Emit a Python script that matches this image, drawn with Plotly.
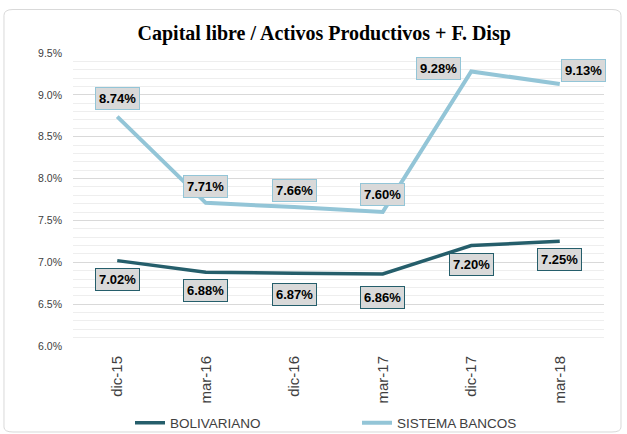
import plotly.graph_objects as go

categories = ["dic-15", "mar-16", "dic-16", "mar-17", "dic-17", "mar-18"]
bolivariano = [7.02, 6.88, 6.87, 6.86, 7.20, 7.25]
sistema = [8.74, 7.71, 7.66, 7.60, 9.28, 9.13]
y_ticks = [6.0, 6.5, 7.0, 7.5, 8.0, 8.5, 9.0, 9.5]

C_BOL = "#255E6B"
C_SIS = "#93C5D7"

# label offsets in pixels (dx, dy), screen y down
off_sis = [(0, -18), (0, -16), (0, -17), (0, -18), (-33, -3), (24, -13)]
off_bol = [(0, 19), (0, 18), (0, 21), (0, 23), (0, 19), (0, 18)]

LEG_FONT = dict(family="Liberation Sans Narrow, Liberation Sans, Arial", size=13.5, color="#404040")

fig = go.Figure()
fig.add_trace(go.Scatter(x=categories, y=bolivariano, mode="lines", name="BOLIVARIANO",
                         line=dict(color=C_BOL, width=3.5), legend="legend"))
fig.add_trace(go.Scatter(x=categories, y=sistema, mode="lines", name="SISTEMA BANCOS",
                         line=dict(color=C_SIS, width=4), legend="legend2"))

annots = []
for vals, offs, col in ((sistema, off_sis, C_SIS), (bolivariano, off_bol, C_BOL)):
    for c, v, (dx, dy) in zip(categories, vals, offs):
        annots.append(dict(x=c, y=v, xref="x", yref="y", text=f"<b>{v:.2f}%</b>",
                           showarrow=False, xshift=dx, yshift=-dy,
                           font=dict(family="Liberation Sans Narrow, Liberation Sans, Arial", size=13, color="#000000"),
                           bgcolor="#D9D9D9", bordercolor=col, borderwidth=1, borderpad=3))

fig.update_layout(
    width=627, height=434,
    margin=dict(l=73, r=23, t=53, b=88, autoexpand=False),
    paper_bgcolor="white", plot_bgcolor="white",
    title=dict(text="<b>Capital libre / Activos Productivos + F. Disp</b>",
               x=0.517, xanchor="center", y=0.924, yanchor="middle",
               font=dict(family="Liberation Serif, DejaVu Serif, serif", size=20, color="#000000")),
    showlegend=True,
    legend=dict(orientation="h", x=130 / 627, xanchor="left", xref="container",
                y=11 / 434, yanchor="middle", yref="container",
                font=LEG_FONT, bgcolor="rgba(0,0,0,0)"),
    legend2=dict(orientation="h", x=357 / 627, xanchor="left", xref="container",
                 y=11 / 434, yanchor="middle", yref="container",
                 font=LEG_FONT, bgcolor="rgba(0,0,0,0)"),
    annotations=annots,
    shapes=[dict(type="path", xref="paper", yref="paper",
                 path="M -0.1130,1.1485 L 1.0150,1.1485 Q 1.0320,1.1485 1.0320,1.1280 L 1.0320,-0.2765 Q 1.0320,-0.2935 1.0150,-0.2935 L -0.1130,-0.2935 Q -0.1300,-0.2935 -0.1300,-0.2765 L -0.1300,1.1280 Q -0.1300,1.1485 -0.1130,1.1485 Z",
                 line=dict(color="#D9D9D9", width=1), layer="below")],
)
fig.update_xaxes(type="category", range=[-0.5, len(categories) - 0.5], tickangle=-90,
                 showgrid=False, showline=False, ticks="", ticklabelstandoff=6,
                 tickfont=dict(family="Liberation Sans, Arial", size=15, color="#404040"))
fig.update_yaxes(range=[6.0, 9.5], tickvals=y_ticks, ticktext=[f"{t:.1f}%" for t in y_ticks],
                 showgrid=True, gridcolor="#D9D9D9", gridwidth=1, zeroline=False, showline=False,
                 ticks="", ticklabelstandoff=10,
                 minor=dict(dtick=0.1, showgrid=True, gridcolor="#EEEEEE", gridwidth=1),
                 tickfont=dict(family="Liberation Sans, Arial", size=10.5, color="#404040"))

fig.write_html("out.html", config={"displayModeBar": False},
               post_script="document.body.style.margin='0';document.body.style.padding='0';")
